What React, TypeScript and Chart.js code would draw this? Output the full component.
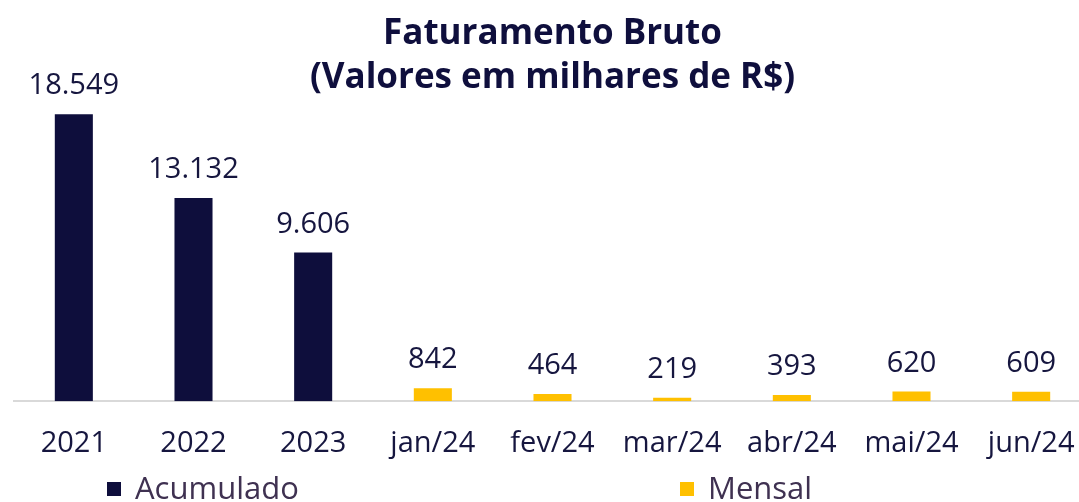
import React, { useEffect, useRef } from "react";
import { Chart, registerables } from "chart.js";

Chart.register(...registerables);

const categories = ["2021", "2022", "2023", "jan/24", "fev/24", "mar/24", "abr/24", "mai/24", "jun/24"];
const acumulado = [18549, 13132, 9606, null, null, null, null, null, null];
const mensal = [null, null, null, 842, 464, 219, 393, 620, 609];
const seriesNames = ["Acumulado", "Mensal"];
const seriesColors = ["#0e0e3c", "#ffc000"];
const titleLines = ["Faturamento Bruto", "(Valores em milhares de R$)"];

const FONT = "'Open Sans', 'Noto Sans', sans-serif";
const TEXT = "#16163f";

function fmt(v: number): string {
  const s = Math.round(v).toString();
  return s.replace(/\B(?=(\d{3})+(?!\d))/g, ".");
}

const valueLabels = {
  id: "valueLabels",
  afterDatasetsDraw(chart: any) {
    const ctx = chart.ctx;
    ctx.save();
    ctx.font = `29px ${FONT}`;
    ctx.fillStyle = TEXT;
    ctx.textAlign = "center";
    ctx.textBaseline = "alphabetic";
    chart.data.datasets.forEach((ds: any, i: number) => {
      const meta = chart.getDatasetMeta(i);
      meta.data.forEach((el: any, j: number) => {
        const v = ds.data[j];
        if (v === null || v === undefined) return;
        ctx.fillText(fmt(v), el.x, el.y - 20);
      });
    });
    ctx.restore();
  },
};

const customLegend = {
  id: "customLegend",
  afterDraw(chart: any) {
    const ctx = chart.ctx;
    const xs = [107, 680];
    const boxY = 482;
    const box = 14;
    ctx.save();
    ctx.font = `31px ${FONT}`;
    ctx.textBaseline = "middle";
    ctx.textAlign = "left";
    chart.data.datasets.forEach((ds: any, i: number) => {
      ctx.fillStyle = ds.backgroundColor;
      ctx.fillRect(xs[i], boxY, box, box);
      ctx.fillStyle = "#3f3151";
      ctx.fillText(ds.label, xs[i] + box + 14, boxY + box / 2 + 1);
    });
    ctx.restore();
  },
};

export default function App() {
  const ref = useRef<HTMLCanvasElement | null>(null);
  useEffect(() => {
    if (!ref.current) return;
    const chart = new Chart(ref.current, {
      type: "bar",
      data: {
        labels: categories,
        datasets: [
          { label: seriesNames[0], data: acumulado, backgroundColor: seriesColors[0], categoryPercentage: 1, barPercentage: 0.318 },
          { label: seriesNames[1], data: mensal, backgroundColor: seriesColors[1], categoryPercentage: 1, barPercentage: 0.318 },
        ],
      },
      options: {
        responsive: false,
        animation: false,
        devicePixelRatio: 1,
        skipNull: true,
        layout: { padding: { left: 14, right: 9, top: 0, bottom: 23 } },
        plugins: {
          legend: { display: false },
          tooltip: { enabled: false },
          title: {
            display: true,
            text: titleLines,
            color: "#0f0f3d",
            font: { family: FONT, size: 35, weight: "bold", lineHeight: 1.26 },
            padding: { top: 12, bottom: 0 },
          },
        },
        scales: {
          x: {
            grid: { display: false },
            border: { display: true, color: "#d9d9d9", width: 2 },
            ticks: { color: TEXT, font: { family: FONT, size: 29, lineHeight: 1.2 }, padding: 17.5, maxRotation: 0, autoSkip: false },
          },
          y: { display: false, min: 0, max: 19450 },
        },
      } as any,
      plugins: [valueLabels, customLegend],
    });
    return () => chart.destroy();
  }, []);
  return (
    <div style={{ position: "absolute", left: 0, top: 0, width: 1079, height: 502, overflow: "hidden", background: "#fff" }}>
      <canvas ref={ref} width={1100} height={502} />
    </div>
  );
}
